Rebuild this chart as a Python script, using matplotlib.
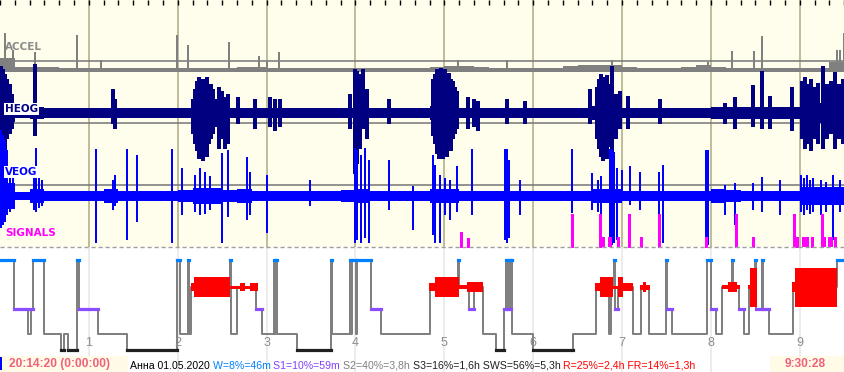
import matplotlib
matplotlib.use('Agg')
import matplotlib.pyplot as plt
import numpy as np

# ============================================================
# 기록 정보 (분 단위, 20:14:20 부터)
# ============================================================
TOTAL_MIN = 570.47          # 9:30:28
HOURS = [1, 2, 3, 4, 5, 6, 7, 8, 9]

# 10분 구간별 배경 잡음 폭 (px)
ACCEL_BAND = [13, 4, 4, 4, 3, 3, 3, 3, 3, 3, 3, 3, 3, 3, 3, 3, 4, 4, 3, 3,
              3, 3, 3, 3, 3, 3, 3, 3, 3, 4, 5, 5, 4, 3, 3, 3, 3, 3, 5, 6,
              6, 6, 4, 3, 3, 3, 4, 6, 4, 3, 3, 3, 3, 3, 3, 3, 9]
HEOG_HW = [9, 5, 6, 5, 5, 5, 5, 5, 5, 5, 5, 5, 5, 7, 7, 5, 5, 5, 5, 5,
           5, 5, 5, 5, 5, 5, 5, 5, 5, 7, 7, 5, 5, 5, 5, 5, 5, 5, 5, 5,
           7, 6, 5, 5, 5, 5, 5, 5, 6, 6, 6, 6, 6, 6, 10, 10, 10]
VEOG_HW = [13, 4, 7, 5, 5, 5, 5, 7, 5, 5, 5, 5, 6, 8, 8, 6, 7, 5, 5, 5,
           5, 5, 5, 6, 7, 5, 5, 5, 5, 7, 7, 5, 5, 5, 5, 5, 5, 5, 5, 5,
           7, 7, 5, 5, 5, 5, 5, 5, 7, 6, 5, 5, 5, 5, 9, 9, 9]

# 가속도 스파이크 (분, 높이 px)
ACCEL_SPK_T = [3.4, 8.8, 23.6, 52.0, 68.2, 119.5, 126.9, 154.6, 174.8, 180.2,
               188.3, 309.2, 342.2, 413.1, 477.9, 494.1, 509.0, 514.4, 565.0,
               567.0, 569.7]
ACCEL_SPK_H = [38, 21, 19, 36, 11, 36, 26, 29, 15, 9,
               19, 11, 11, 11, 9, 20, 20, 35, 21, 21, 38]

# HEOG 스파이크 (분, 위 px, 아래 px)
HEOG_T = [0.7, 2.0, 3.4, 4.7, 6.8, 8.1, 23.6, 76.3, 77.6,
          130.3, 131.6, 133.0, 134.3, 135.7, 137.0, 138.4, 139.7, 141.1, 142.4,
          143.8, 145.8, 147.8, 149.9, 151.9, 153.9, 160.7, 172.1, 182.3, 185.6,
          189.0, 236.3, 239.6, 241.0, 243.0, 245.0, 247.7, 262.6,
          292.3, 293.6, 295.0, 296.3, 297.7, 299.0, 300.4, 301.7, 303.1, 304.4,
          305.8, 307.1, 308.5, 315.9, 320.0, 322.7, 342.2, 354.4, 398.3,
          403.0, 404.3, 405.7, 407.0, 408.4, 409.7, 411.1, 413.1, 415.8, 418.5,
          423.9, 445.5, 489.4, 496.1, 508.3, 514.4, 519.8, 534.6,
          541.4, 543.4, 545.4, 547.4, 549.5, 552.2, 555.5, 558.2, 560.9, 563.6,
          566.3, 569.0]
HEOG_UP = [47, 44, 39, 34, 29, 19, 49, 24, 14,
           14, 24, 32, 36, 29, 34, 26, 36, 19, 29,
           24, 14, 26, 22, 16, 19, 16, 14, 16, 14,
           14, 19, 44, 42, 39, 44, 24, 14,
           34, 39, 44, 42, 45, 39, 44, 36, 40, 34,
           32, 26, 22, 16, 14, 12, 14, 12, 24,
           26, 34, 39, 36, 32, 38, 29, 47, 19, 22,
           17, 14, 10, 16, 28, 42, 17, 26,
           32, 36, 29, 34, 26, 30, 47, 29, 32, 41,
           29, 34]
HEOG_DN = [49, 36, 46, 26, 21, 16, 23, 11, 16,
           21, 31, 38, 46, 36, 48, 41, 44, 31, 26,
           21, 14, 36, 26, 36, 31, 11, 16, 14, 18,
           14, 16, 61, 51, 36, 16, 26, 11,
           23, 31, 41, 46, 36, 46, 41, 44, 34, 38,
           26, 21, 16, 16, 14, 18, 11, 11, 11,
           26, 36, 44, 48, 41, 46, 34, 49, 26, 16,
           16, 11, 11, 16, 14, 16, 16, 18,
           26, 36, 31, 38, 26, 31, 36, 26, 21, 36,
           26, 31]

# VEOG 스파이크 (분, 위 px, 아래 px)
VEOG_T = [0.7, 2.0, 3.4, 4.7, 6.8, 8.8, 23.0, 24.3, 26.3, 28.4,
          64.8, 76.3, 77.6, 85.7, 92.5, 116.1, 122.9, 131.6, 135.0, 138.4,
          141.8, 149.9, 153.9, 166.7, 168.8, 180.2, 209.3, 239.6, 241.0, 243.7,
          246.4, 249.1, 262.6, 278.8, 292.3, 293.6, 297.0, 300.4, 303.8, 308.5,
          318.6, 340.9, 342.2, 343.6, 351.0, 386.1, 399.6, 403.7, 405.7, 411.8,
          413.1, 414.5, 416.5, 419.9, 425.3, 432.0, 444.8, 447.5, 476.6, 477.9,
          489.4, 496.1, 508.3, 514.4, 526.5, 540.7, 542.7, 544.7, 546.8, 548.8,
          554.2, 557.6, 562.3, 567.0]
VEOG_UP = [66, 61, 56, 46, 26, 18, 21, 48, 18, 16,
           47, 16, 21, 47, 41, 47, 28, 21, 28, 24,
           20, 43, 46, 39, 24, 21, 16, 48, 46, 41,
           48, 36, 36, 10, 41, 31, 21, 18, 16, 30,
           47, 47, 47, 36, 16, 47, 23, 16, 20, 47,
           47, 44, 28, 26, 30, 24, 24, 31, 46, 46,
           11, 13, 13, 19, 16, 21, 18, 21, 16, 18,
           16, 14, 21, 16]
VEOG_DN = [32, 29, 26, 19, 16, 12, 14, 16, 12, 10,
           47, 14, 10, 44, 26, 47, 19, 16, 19, 18,
           14, 47, 21, 24, 19, 37, 10, 47, 44, 47,
           42, 47, 14, 34, 39, 47, 47, 19, 24, 16,
           19, 44, 47, 42, 19, 17, 14, 16, 18, 49,
           49, 47, 44, 4, 9, 14, 39, 47, 47, 49,
           19, 29, 14, 16, 19, 16, 19, 14, 18, 16,
           19, 16, 44, 16]

# SIGNALS 표시 (시작 분, 길이 분, 높이 px)
SIG_T = [311.2, 315.9, 386.1, 405.0, 405.0, 410.4, 416.5, 424.6, 432.7, 444.8,
         444.8, 476.6, 496.8, 508.3, 536.0, 538.0, 541.4, 548.1, 554.9, 555.5,
         558.9, 563.6]
SIG_W = [0, 0, 0, 0, 3.4, 2.7, 2.0, 0, 0, 0,
         1.4, 0, 0, 0, 0, 0, 4.7, 0, 0, 2.0,
         3.4, 0]
SIG_H = [15, 9, 33, 33, 10, 10, 10, 33, 10, 33,
         15, 10, 33, 10, 33, 10, 10, 10, 33, 10,
         10, 10]

# 수면 단계 (시작 분, 단계)
HYP_T = [0, 9.5, 18.9, 20.9, 22.3, 29.7, 41.2, 43.2, 45.9, 52.0,
         53.3, 66.2, 85.7, 119.5, 121.5, 126.9, 127.6, 129.0, 155.3, 155.9,
         160.0, 172.8, 176.9, 185.0, 185.6, 186.3, 187.0, 200.5, 223.4, 224.1,
         236.3, 236.9, 237.6, 240.3, 241.0, 250.4, 257.2, 290.3, 309.2, 309.8,
         316.6, 320.0, 326.0, 334.8, 340.2, 341.6, 342.2, 342.9, 344.3, 344.9,
         345.6, 359.8, 386.8, 402.3, 411.1, 412.4, 414.5, 415.1, 417.2, 427.3,
         432.7, 438.1, 449.6, 450.2, 453.6, 477.2, 480.0, 483.3, 487.4, 494.1,
         494.8, 498.8, 502.2, 505.6, 509.6, 510.3, 514.4, 515.1, 519.1, 535.3,
         565.0]
HYP_S = ['W', '1', '2', '1', 'W', '2', '3', '2', '3', 'W',
         '1', '2', '3', 'W', '2', 'W', '2', 'R', 'W', '2',
         'R', '1', '2', 'W', '2', 'W', '2', '3', 'W', '2',
         'W', '2', 'W', '2', 'W', '1', '2', 'R', 'W', 'R',
         '1', 'R', '2', '3', '1', 'W', '1', 'W', '1', 'W',
         '2', '3', '2', 'R', '2', 'R', 'W', '1', 'R', '2',
         'R', '2', 'W', '1', '2', 'W', '1', '2', 'R', 'W',
         'R', '1', '2', 'R', 'W', '1', 'W', '1', '2', 'R',
         'W']

# REM 강도 블록 (시작 분, 끝 분, 두께 px)
REM_T0 = [128.9, 131.0, 155.3, 162.0, 165.4, 168.8, 289.6, 293.6, 309.8, 315.2,
          319.3, 401.6, 405.0, 413.8, 417.2, 420.5, 432.0, 434.0, 487.4, 491.4,
          497.5, 504.9, 506.3, 534.6, 536.6]
REM_T1 = [131.0, 155.3, 162.0, 165.4, 168.8, 174.2, 293.6, 309.8, 315.2, 319.3,
          326.0, 405.0, 413.8, 417.2, 420.5, 427.3, 438.8, 436.1, 491.4, 497.5,
          499.5, 506.3, 511.0, 536.6, 565.0]
REM_H = [8, 20, 3, 8, 3, 8, 8, 20, 4, 10,
         10, 8, 20, 3, 20, 8, 5, 10, 4, 10,
         4, 4, 39, 10, 39]

STATUS_PARTS = [("Анна 01.05.2020 ", "#000000"),
                ("W=8%=46m ", "#0080FF"),
                ("S1=10%=59m ", "#8040FF"),
                ("S2=40%=3,8h ", "#808080"),
                ("S3=16%=1,6h SWS=56%=5,3h ", "#202020"),
                ("R=25%=2,4h FR=14%=1,3h", "#FF0000")]
START_LABEL = "20:14:20 (0:00:00)"
END_LABEL = "9:30:28"

# ============================================================
# 레이아웃 (px, 위에서부터)
# ============================================================
W_PX, H_PX = 845, 372
PANEL_BOTTOM = 247
SEP_Y = [61, 123, 185]
ACCEL_Y, HEOG_Y, VEOG_Y = 71, 113, 196
STAGE_Y = {'W': 260, 'R': 287, '1': 309, '2': 334, '3': 350}
PT = 0.72  # 1 px in points

C_ACCEL, C_HEOG, C_VEOG, C_SIG = '#808080', '#000080', '#0000FF', '#FF00FF'

fig = plt.figure(figsize=(W_PX / 100, H_PX / 100), dpi=100)
ax = fig.add_axes([0, 0, 1, 1])
ax.set_xlim(0, TOTAL_MIN)
ax.set_ylim(H_PX, 0)
ax.axis('off')

# 배경
ax.axhspan(0, PANEL_BOTTOM, color='#FFFDEB', zorder=0)
ax.axhspan(PANEL_BOTTOM, H_PX, color='white', zorder=0)

hour_min = [h * 60 for h in HOURS]
ax.vlines(hour_min, 0, PANEL_BOTTOM, color='#AAA982', lw=1.5 * PT, zorder=1)
ax.vlines(hour_min, PANEL_BOTTOM, H_PX, color='#E6E6E6', lw=1.5 * PT, zorder=1)
ax.hlines(SEP_Y, 0, TOTAL_MIN, color='#7A7A7A', lw=1.6 * PT, zorder=1)

# 상단 눈금 (10분)
ticks = np.arange(0, TOTAL_MIN, 10)
ax.vlines(ticks, 0, 5, color='black', lw=1.4 * PT, zorder=6)

# ------------------------------------------------------------
# 신호
# ------------------------------------------------------------
edges = list(np.arange(0, 561, 10)) + [TOTAL_MIN]


def band(base, up, dn, color, z):
    up = np.array(up + [up[-1]], float)
    dn = np.array(dn + [dn[-1]], float)
    ax.fill_between(edges, base - up, base + dn, step='post', color=color,
                    lw=0, zorder=z, antialiased=False)


def spikes(t, base, up, dn, color, lw, z):
    ax.vlines(t, base - np.array(up), base + np.array(dn), color=color,
              lw=lw * PT, zorder=z, antialiased=False)


band(ACCEL_Y, ACCEL_BAND, [1] * len(ACCEL_BAND), C_ACCEL, 3)
spikes(ACCEL_SPK_T, ACCEL_Y, ACCEL_SPK_H, [0] * len(ACCEL_SPK_H), C_ACCEL, 1.5, 3)

band(HEOG_Y, HEOG_HW, HEOG_HW, C_HEOG, 3)
spikes(HEOG_T, HEOG_Y, HEOG_UP, HEOG_DN, C_HEOG, 2.2, 3)

band(VEOG_Y, VEOG_HW, VEOG_HW, C_VEOG, 4)
spikes(VEOG_T, VEOG_Y, VEOG_UP, VEOG_DN, C_VEOG, 1.6, 4)

for t, w, h in zip(SIG_T, SIG_W, SIG_H):
    if w == 0:
        ax.vlines(t, PANEL_BOTTOM - h, PANEL_BOTTOM, color=C_SIG, lw=1.3 * PT,
                  zorder=4, antialiased=False)
    else:
        ax.bar(t, h, width=w, bottom=PANEL_BOTTOM - h, align='edge',
               color=C_SIG, lw=0, zorder=4)

ax.hlines(PANEL_BOTTOM, 0, TOTAL_MIN, color='#A0A0A0', lw=1.4 * PT,
          linestyles=(0, (3, 2)), zorder=5)

lab_kw = dict(fontsize=7.5, fontweight='bold', va='center', ha='left',
              family='DejaVu Sans', zorder=7)
ax.text(3.6, 47, 'ACCEL', color='#8A8A8A', **lab_kw)
ax.text(3.6, 109, 'HEOG', color=C_HEOG,
        bbox=dict(facecolor='white', edgecolor='none', pad=0.6), **lab_kw)
ax.text(3.6, 172, 'VEOG', color=C_VEOG,
        bbox=dict(facecolor='white', edgecolor='none', pad=0.6), **lab_kw)
ax.text(3.6, 233, 'SIGNALS', color=C_SIG, **lab_kw)

# ------------------------------------------------------------
# 수면 단계도
# ------------------------------------------------------------
hyp_x = HYP_T + [TOTAL_MIN]
hyp_y = [STAGE_Y[s] for s in HYP_S] + [STAGE_Y[HYP_S[-1]]]
ax.step(hyp_x, hyp_y, where='post', color='#808080', lw=2 * PT, zorder=3)

bar_col = {'W': '#0080FF', '1': '#8A4DFF', '3': '#202020'}
for i, s in enumerate(HYP_S):
    if s in bar_col:
        t1 = hyp_x[i + 1]
        ax.plot([HYP_T[i], t1], [STAGE_Y[s]] * 2, color=bar_col[s],
                lw=3.2 * PT, solid_capstyle='projecting', zorder=4)

rem_h = np.array(REM_H, float)
ax.bar(REM_T0, rem_h, width=np.array(REM_T1) - np.array(REM_T0),
       bottom=STAGE_Y['R'] - rem_h / 2, align='edge', color='#FF0000', lw=0, zorder=5)

for h, m in zip(HOURS, hour_min):
    ax.text(m, 343.5, str(h), color='#8C8C8C', fontsize=9, ha='center', va='center',
            family='Liberation Sans', zorder=6)

# ------------------------------------------------------------
# 상태 표시줄
# ------------------------------------------------------------
ax.axvspan(0, 128 * TOTAL_MIN / W_PX, ymin=0, ymax=(H_PX - 356) / H_PX,
           color='#FFFBE6', lw=0, zorder=6)
ax.axvspan(770 * TOTAL_MIN / W_PX, TOTAL_MIN, ymin=0, ymax=(H_PX - 356) / H_PX,
           color='#FFFBE6', lw=0, zorder=6)
ax.vlines(0.4, 357, 370, color='#0000FF', lw=2 * PT, zorder=7)

fig.text(9 / W_PX, (H_PX - 367) / H_PX, START_LABEL, color='#F0607A',
         fontsize=8.6, fontweight='bold', family='Liberation Sans', va='baseline')
fig.text(785 / W_PX, (H_PX - 367) / H_PX, END_LABEL, color='#F0607A',
         fontsize=8.6, fontweight='bold', family='Liberation Sans', va='baseline')

fig.canvas.draw()
renderer = fig.canvas.get_renderer()
x = 130.0
for s, c in STATUS_PARTS:
    t = fig.text(x / W_PX, (H_PX - 369) / H_PX, s, color=c, fontsize=7.6,
                 family='Liberation Sans', va='baseline')
    bb = t.get_window_extent(renderer)
    x = bb.x1

fig.savefig('out.png', dpi=100)
